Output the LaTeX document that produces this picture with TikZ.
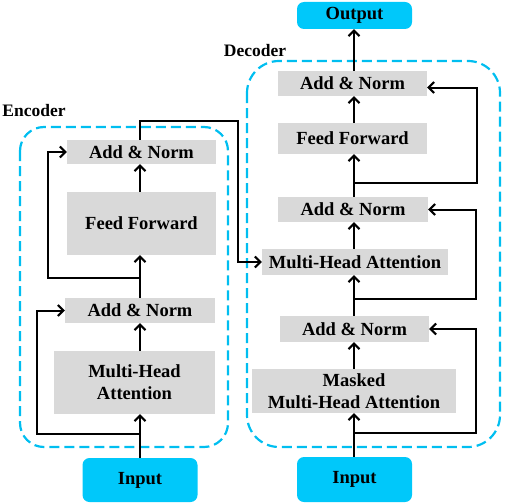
\documentclass[tikz,border=0pt]{standalone}
\usepackage{fontspec}
\setmainfont{Liberation Serif}
\usetikzlibrary{arrows.meta}
\definecolor{gfill}{RGB}{217,217,217}
\definecolor{cfill}{RGB}{0,200,250}
\definecolor{cdash}{RGB}{0,190,240}
\tikzset{
  blk/.style={fill=gfill, draw=none, inner sep=0pt, align=center, font=\bfseries\fontsize{18.5}{22}\selectfont},
  io/.style={fill=cfill, draw=none, rounded corners=7pt, inner sep=0pt, font=\bfseries\fontsize{18.5}{22}\selectfont},
  lbl/.style={inner sep=0pt, font=\bfseries\fontsize{17.5}{21}\selectfont},
  arr/.style={-{Straight Barb[length=5.5pt,width=11pt]}, line width=2pt, black},
  grp/.style={draw=cdash, dashed, dash pattern=on 10pt off 5pt, line width=2.2pt}
}
\begin{document}
\begin{tikzpicture}[x=1pt,y=-1pt]
\useasboundingbox (0,0) rectangle (505,503);
% group frames
\draw[grp, rounded corners=24pt] (20,127) rectangle (228,447);
\draw[grp, rounded corners=32pt] (247,61) rectangle (500,447);
\node[lbl] (elbl) at (34,111) {Encoder};
\node[lbl] (dlbl) at (255,51) {Decoder};
% encoder
\node[blk, minimum width=149pt, minimum height=24pt] (eAN2) at (141.5,152) {Add \& Norm};
\node[blk, minimum width=149pt, minimum height=63pt] (eFF) at (141.5,223.5) {Feed Forward};
\node[blk, minimum width=150pt, minimum height=25pt] (eAN1) at (140,310.5) {Add \& Norm};
\node[blk, minimum width=161pt, minimum height=63pt] (eMHA) at (134.5,382.5) {Multi-Head\\Attention};
\node[io, minimum width=115pt, minimum height=44pt] (eIn) at (140,480) {Input};
% decoder
\node[io, minimum width=115pt, minimum height=27pt] (dOut) at (354.5,15.5) {Output};
\node[blk, minimum width=149pt, minimum height=25pt] (dAN3) at (352.5,83.5) {Add \& Norm};
\node[blk, minimum width=149pt, minimum height=31pt] (dFF) at (352.5,138.5) {Feed Forward};
\node[blk, minimum width=150pt, minimum height=25pt] (dAN2) at (353,209.5) {Add \& Norm};
\node[blk, minimum width=186pt, minimum height=26pt] (dMHA) at (355,262) {Multi-Head Attention};
\node[blk, minimum width=149pt, minimum height=26pt] (dAN1) at (354.5,329) {Add \& Norm};
\node[blk, minimum width=204pt, minimum height=44pt] (dMMHA) at (354,391) {Masked\\Multi-Head Attention};
\node[io, minimum width=115pt, minimum height=45pt] (dIn) at (354.5,479.5) {Input};
% encoder main flow
\coordinate (ex) at (140,0);
\draw[arr] (ex |- eIn.north) -- (ex |- eMHA.south);
\draw[arr] (ex |- eMHA.north) -- (ex |- eAN1.south);
\draw[arr] (ex |- eAN1.north) -- (ex |- eFF.south);
\draw[arr] (ex |- eFF.north) -- (ex |- eAN2.south);
% encoder residuals
\coordinate (er1) at (140,434);
\coordinate (er2) at (140,278);
\draw[arr] (er1) -- (37,434) |- (eAN1.west);
\draw[arr] (er2) -- (48,278) |- (eAN2.west);
% encoder to decoder
\coordinate (ec) at (238,121);
\draw[arr] (ex |- eAN2.north) |- (ec) |- (dMHA.west);
% decoder main flow
\coordinate (dx) at (354,0);
\draw[arr] (dx |- dIn.north) -- (dx |- dMMHA.south);
\draw[arr] (dx |- dMMHA.north) -- (dx |- dAN1.south);
\draw[arr] (dx |- dAN1.north) -- (dx |- dMHA.south);
\draw[arr] (dx |- dMHA.north) -- (dx |- dAN2.south);
\draw[arr] (dx |- dAN2.north) -- (dx |- dFF.south);
\draw[arr] (dx |- dFF.north) -- (dx |- dAN3.south);
\draw[arr] (dx |- dAN3.north) -- (dx |- dOut.south);
% decoder residuals
\coordinate (dr1) at (354,433);
\coordinate (dr2) at (354,299);
\coordinate (dr3) at (354,183);
\draw[arr] (dr1) -- (476,433) |- (dAN1.east);
\draw[arr] (dr2) -- (476,299) |- (dAN2.east);
\draw[arr] (dr3) -- (477,183) |- ([yshift=-4pt]dAN3.east);
\end{tikzpicture}
\end{document}
